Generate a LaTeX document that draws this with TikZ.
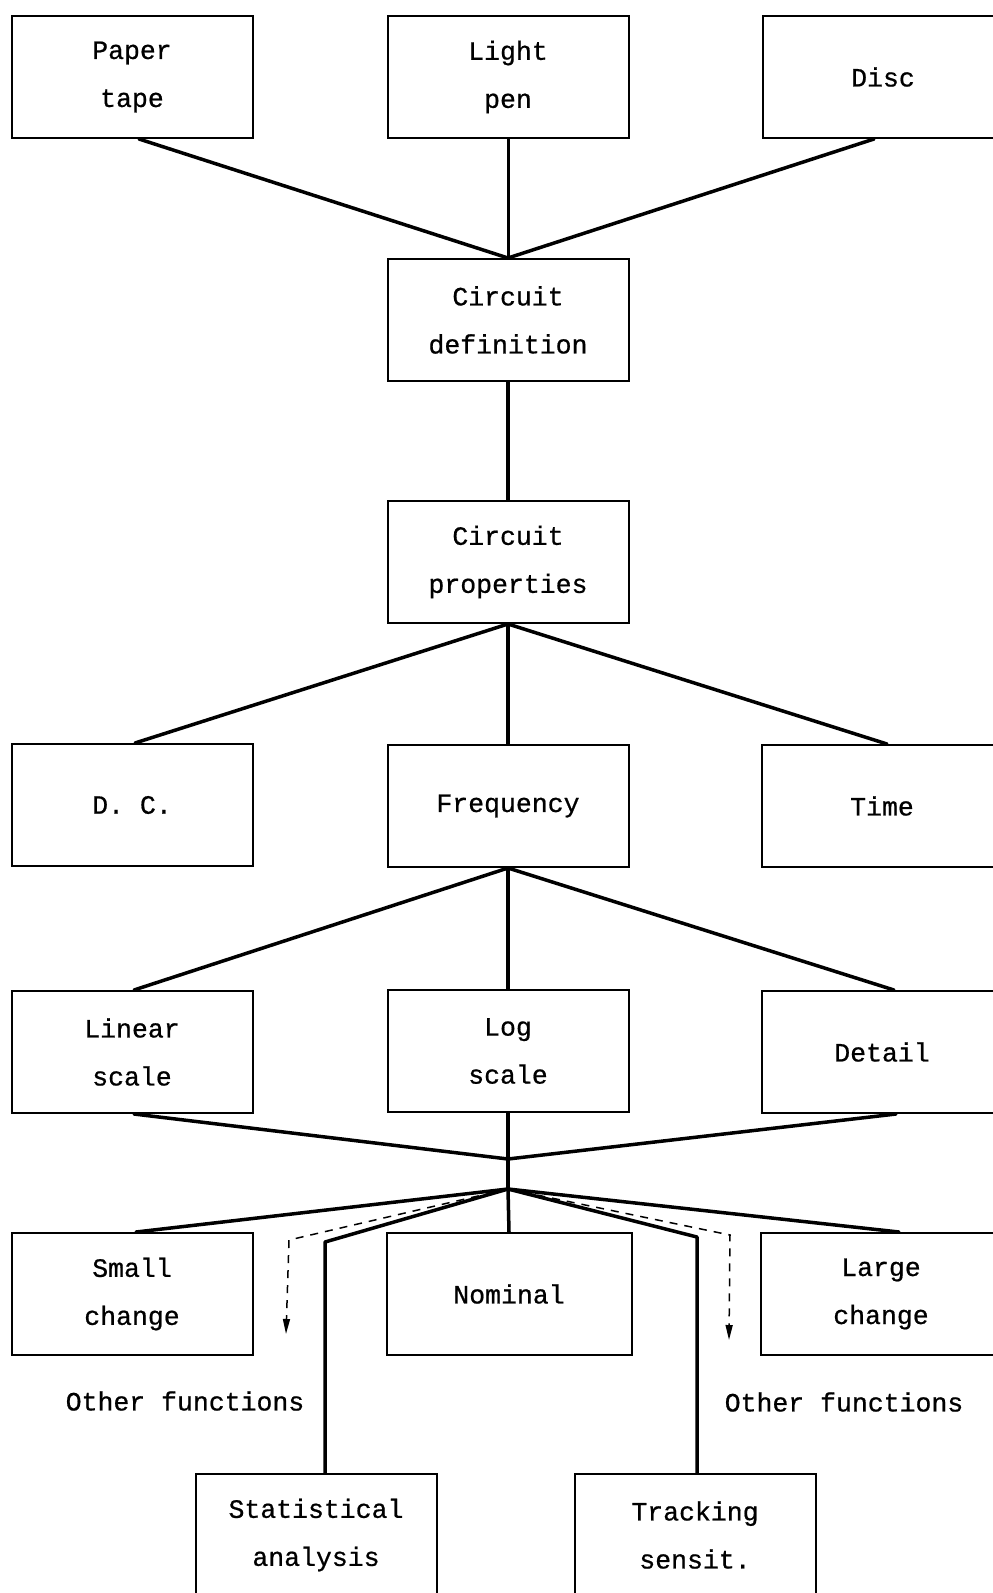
\documentclass[tikz,border=0pt]{standalone}
\usepackage{fontspec}
\setmainfont{Liberation Mono}[FakeBold=0.7]
\usetikzlibrary{arrows.meta,calc}
\begin{document}
\begin{tikzpicture}[x=1pt,y=-1pt,
  box/.style={draw, line width=2pt, minimum width=241pt, minimum height=122pt,
    align=center, inner sep=0pt, font=\fontsize{26.5}{48}\selectfont},
  link/.style={line width=3.5pt, line cap=round, line join=round},
  aux/.style={line width=1.5pt, dash pattern=on 8pt off 7pt,
    -{Triangle[length=15pt,width=7pt]}},
  lbl/.style={font=\fontsize{26.5}{48}\selectfont, inner sep=0pt}]
\useasboundingbox (0,0) rectangle (993,1593);

% input devices
\node[box] (paper) at (132,77) {Paper\\tape};
\node[box] (light) at (508,77) {Light\\pen};
\node[box] (disc)  at (883,77) {Disc};

% circuit description
\node[box] (cdef)  at (508,320) {Circuit\\definition};
\node[box] (cprop) at (508,562) {Circuit\\properties};

% analysis types
\node[box] (dc)   at (132,805) {D. C.};
\node[box] (freq) at (508,806) {Frequency};
\node[box] (time) at (882,806) {Time};

% frequency display modes
\node[box] (linear) at (132,1052) {Linear\\scale};
\node[box] (log)    at (508,1051) {Log\\scale};
\node[box] (detail) at (882,1052) {Detail};

% functions
\node[box] (small)   at (132,1294) {Small\\change};
\node[box, minimum width=245pt] (nominal) at (509,1294) {Nominal};
\node[box] (large)   at (881,1294) {Large\\change};
\node[box] (stat)  at (316,1535) {Statistical\\analysis};
\node[box] (track) at (695,1535) {Tracking\\sensit.};

\node[lbl] (of1) at (185,1401) {Other functions};
\node[lbl] (of2) at (844,1402) {Other functions};

% top fan-in
\draw[link] ([xshift=7pt]paper.south) -- (cdef.north);
\draw[link, line width=3pt] (light.south) -- (cdef.north);
\draw[link] ([xshift=-9pt]disc.south) -- (cdef.north);
\draw[link] (cdef.south) -- (cprop.north);

% properties fan-out
\draw[link] (cprop.south) -- ([xshift=3pt]dc.north);
\draw[link] (cprop.south) -- (freq.north);
\draw[link] (cprop.south) -- ([xshift=5pt]time.north);

% frequency fan-out
\draw[link] (freq.south) -- ([xshift=2pt]linear.north);
\draw[link] (freq.south) -- (log.north);
\draw[link] (freq.south) -- ([xshift=12pt]detail.north);

% display modes merge
\coordinate (j2) at (508,1159);
\coordinate (j3) at (508,1189);
\draw[link] ([xshift=2pt]linear.south) -- (j2);
\draw[link] (log.south) -- (j2);
\draw[link] ([xshift=14pt]detail.south) -- (j2);
\draw[link] (j2) -- (j3);

% function branches
\draw[link] (j3) -- ([xshift=4pt]small.north);
\draw[link] (j3) -- (nominal.north);
\draw[link] (j3) -- ([xshift=18pt]large.north);
\coordinate (s1) at (325,1242);
\coordinate (t1) at (697,1237);
\draw[link] (j3) -- (s1) -- (s1 |- stat.north);
\draw[link] (j3) -- (t1) -- (t1 |- track.north);

% further functions
\coordinate (d1) at (289,1240);
\coordinate (d1e) at (286,1334);
\coordinate (d2) at (730,1235);
\coordinate (d2e) at (729,1340);
\draw[aux] (j3) -- (d1) -- (d1e);
\draw[aux] (j3) -- (d2) -- (d2e);
\end{tikzpicture}
\end{document}
